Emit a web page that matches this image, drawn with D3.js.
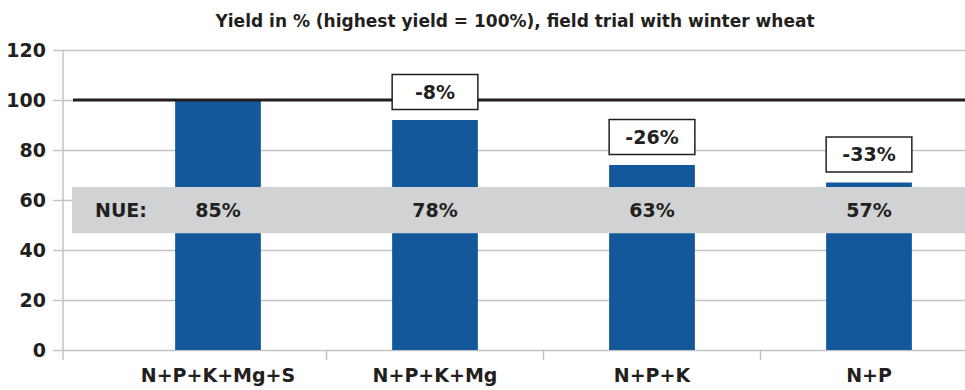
<!DOCTYPE html>
<html>
<head>
<meta charset="utf-8">
<script src="https://cdn.jsdelivr.net/npm/d3@7"></script>
<style>
  html, body { margin: 0; padding: 0; background: #fff; }
  svg { display: block; }
  text { font-family: "DejaVu Sans", "Noto Sans", sans-serif; font-weight: bold; fill: #231f20; }
</style>
</head>
<body>
<svg id="chart" width="965" height="390"></svg>
<script>
// Yield per fertilisation variant, % of the highest yield
const categories = ["N+P+K+Mg+S", "N+P+K+Mg", "N+P+K", "N+P"];
const yieldValues = [100, 92, 74, 67];
const lossLabels = [null, "-8%", "-26%", "-33%"];
const nueLabels = ["85%", "78%", "63%", "57%"];
const yTicks = [0, 20, 40, 60, 80, 100, 120];
const titleText = "Yield in % (highest yield = 100%), field trial with winter wheat";
const nueTitle = "NUE:";
const referenceLevel = 100;
const nueBand = [46.7, 65.2];

const svg = d3.select("#chart");
const axisX = 63, plotRight = 965, baseY = 350, topY = 50;

const y = d3.scaleLinear().domain([0, 120]).range([baseY, topY]);
const x = d3.scaleBand().domain(categories).range([109.5, 977.5]).paddingInner(0).paddingOuter(0);
const barW = x.bandwidth() * 0.395;
const cx = d => x(d) + x.bandwidth() / 2;

// title
svg.append("text")
  .attr("x", 515).attr("y", 27)
  .attr("text-anchor", "middle")
  .style("font-size", "17px")
  .text(titleText);

// horizontal gridlines with y-axis labels
const yAxis = d3.axisLeft(y).tickValues(yTicks).tickSize(-(plotRight - axisX)).tickPadding(8);
const gy = svg.append("g").attr("transform", `translate(${axisX},0)`).call(yAxis);
gy.select(".domain").remove();
gy.selectAll(".tick line").attr("stroke", "#c3c3c5").attr("stroke-width", 1.5).attr("x1", -10);
gy.selectAll(".tick text").style("font-size", "19px").attr("x", -17).attr("fill", "#231f20");

// vertical axis line
svg.append("line")
  .attr("x1", axisX).attr("x2", axisX)
  .attr("y1", y(120)).attr("y2", baseY + 10)
  .attr("stroke", "#c3c3c5").attr("stroke-width", 1.5);

// category boundary ticks on the x axis
const boundaries = categories.slice(1).map(c => x(c));
svg.selectAll("line.xtick").data(boundaries).enter().append("line")
  .attr("class", "xtick")
  .attr("x1", d => d).attr("x2", d => d)
  .attr("y1", baseY).attr("y2", baseY + 10)
  .attr("stroke", "#c3c3c5").attr("stroke-width", 1.5);

// bars
svg.selectAll("rect.bar").data(yieldValues).enter().append("rect")
  .attr("class", "bar")
  .attr("x", (d, i) => cx(categories[i]) - barW / 2)
  .attr("width", barW)
  .attr("y", d => y(d))
  .attr("height", d => baseY - y(d))
  .attr("fill", "#12589a");

// 100% reference line
svg.append("line")
  .attr("x1", 73).attr("x2", plotRight)
  .attr("y1", y(referenceLevel)).attr("y2", y(referenceLevel))
  .attr("stroke", "#231f20").attr("stroke-width", 3);

// NUE band
svg.append("rect")
  .attr("x", 72).attr("width", plotRight - 72)
  .attr("y", y(nueBand[1])).attr("height", y(nueBand[0]) - y(nueBand[1]))
  .attr("fill", "#d1d2d4");
const nueMid = (y(nueBand[0]) + y(nueBand[1])) / 2;
svg.append("text")
  .attr("x", 95).attr("y", nueMid).attr("dy", "0.36em")
  .style("font-size", "19px")
  .text(nueTitle);
svg.selectAll("text.nue").data(nueLabels).enter().append("text")
  .attr("class", "nue")
  .attr("x", (d, i) => cx(categories[i]))
  .attr("y", nueMid).attr("dy", "0.36em")
  .attr("text-anchor", "middle")
  .style("font-size", "19px")
  .text(d => d);

// yield loss labels
const boxH = 35, gap = 10.5;
const loss = svg.selectAll("g.loss")
  .data(yieldValues.map((v, i) => ({ v, label: lossLabels[i], c: categories[i] })).filter(d => d.label))
  .enter().append("g").attr("class", "loss");
loss.append("rect")
  .attr("x", d => cx(d.c) - barW / 2)
  .attr("width", barW)
  .attr("y", d => y(d.v) - gap - boxH)
  .attr("height", boxH)
  .attr("fill", "#fff").attr("stroke", "#231f20").attr("stroke-width", 1.5);
loss.append("text")
  .attr("x", d => cx(d.c))
  .attr("y", d => y(d.v) - gap - boxH / 2).attr("dy", "0.36em")
  .attr("text-anchor", "middle")
  .style("font-size", "19px")
  .text(d => d.label);

// category labels
svg.selectAll("text.cat").data(categories).enter().append("text")
  .attr("class", "cat")
  .attr("x", d => cx(d))
  .attr("y", 382)
  .attr("text-anchor", "middle")
  .style("font-size", "19px")
  .text(d => d);
</script>
</body>
</html>
